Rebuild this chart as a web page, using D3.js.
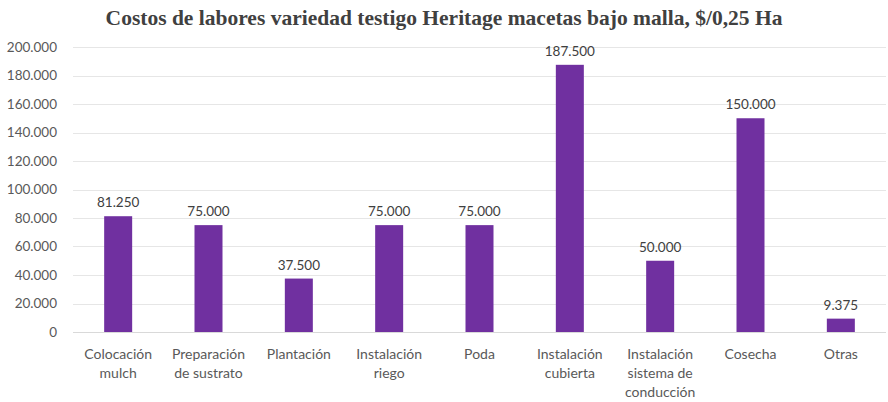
<!DOCTYPE html>
<html>
<head>
<meta charset="utf-8">
<script src="https://cdn.jsdelivr.net/npm/d3@7"></script>
<style>
  body { margin: 0; background: #fff; }
  text { font-family: Lato, "Open Sans", sans-serif; }
</style>
</head>
<body>
<div id="chart"></div>
<script>
var w = 888, h = 402;

// data
var categories = [
  ["Colocación", "mulch"],
  ["Preparación", "de sustrato"],
  ["Plantación"],
  ["Instalación", "riego"],
  ["Poda"],
  ["Instalación", "cubierta"],
  ["Instalación", "sistema de", "conducción"],
  ["Cosecha"],
  ["Otras"]
];
var costs = [81250, 75000, 37500, 75000, 75000, 187500, 50000, 150000, 9375];
var yTicks = [0, 20000, 40000, 60000, 80000, 100000, 120000, 140000, 160000, 180000, 200000];
var title = "Costos de labores variedad testigo Heritage macetas bajo malla, $/0,25 Ha";

var margin = {left: 73, right: 2, top: 47, bottom: 70};

var loc = d3.formatLocale({decimal: ",", thousands: ".", grouping: [3], currency: ["$", ""]});
var fmt = loc.format(",.0f");

var svg = d3.select("#chart").append("svg")
  .attr("width", w)
  .attr("height", h);

var x = d3.scaleBand()
  .domain(d3.range(categories.length))
  .range([margin.left, w - margin.right])
  .paddingInner(0.69)
  .paddingOuter(0.345);

var y = d3.scaleLinear()
  .domain([0, 200000])
  .range([h - margin.bottom, margin.top]);

// gridlines
svg.append("g")
  .selectAll("line")
  .data(yTicks)
  .enter().append("line")
  .attr("x1", margin.left)
  .attr("x2", w - margin.right)
  .attr("y1", function(d){ return Math.round(y(d)) + 0.5; })
  .attr("y2", function(d){ return Math.round(y(d)) + 0.5; })
  .attr("stroke", function(d){ return d == 0 ? "#d9d9d9" : "#e6e6e6"; })
  .attr("stroke-width", 1);

// y labels
svg.append("g")
  .selectAll("text")
  .data(yTicks)
  .enter().append("text")
  .attr("x", 57)
  .attr("y", function(d){ return y(d); })
  .attr("dy", "0.35em")
  .attr("text-anchor", "end")
  .style("font-size", "13.5px")
  .style("fill", "#595959")
  .text(function(d){ return fmt(d); });

// bars
svg.append("g")
  .selectAll("rect")
  .data(costs)
  .enter().append("rect")
  .attr("x", function(d, i){ return x(i); })
  .attr("width", x.bandwidth())
  .attr("y", function(d){ return y(d); })
  .attr("height", function(d){ return y(0) - y(d); })
  .attr("fill", "#7030A0");

// value labels
svg.append("g")
  .selectAll("text")
  .data(costs)
  .enter().append("text")
  .attr("x", function(d, i){ return x(i) + x.bandwidth() / 2; })
  .attr("y", function(d){ return y(d) - 9; })
  .attr("text-anchor", "middle")
  .style("font-size", "13.5px")
  .style("fill", "#404040")
  .text(function(d){ return loc.format(",")(d); });

// category labels
var cat = svg.append("g")
  .selectAll("text")
  .data(categories)
  .enter().append("text")
  .attr("x", function(d, i){ return x(i) + x.bandwidth() / 2; })
  .attr("y", h - margin.bottom + 27)
  .attr("text-anchor", "middle")
  .style("font-size", "14px")
  .style("fill", "#595959");

cat.selectAll("tspan")
  .data(function(d){ return d; })
  .enter().append("tspan")
  .attr("x", function(){ return d3.select(this.parentNode).attr("x"); })
  .attr("dy", function(d, i){ return i == 0 ? 0 : 19; })
  .text(function(d){ return d; });

// title
svg.append("text")
  .attr("x", w / 2)
  .attr("y", 25)
  .attr("text-anchor", "middle")
  .style("font-family", "'Liberation Serif', 'DejaVu Serif', serif")
  .style("font-weight", "bold")
  .style("font-size", "21.5px")
  .style("fill", "#404040")
  .text(title);
</script>
</body>
</html>
